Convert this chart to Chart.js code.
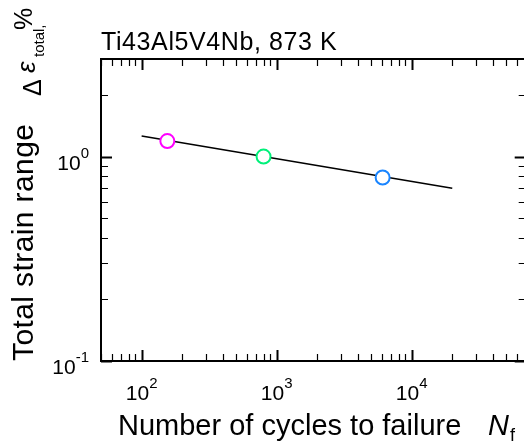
<!DOCTYPE html>
<html>
<head>
<meta charset="utf-8">
<script src="https://cdn.jsdelivr.net/npm/chart.js@4"></script>
<style>
  html, body { margin: 0; padding: 0; overflow: hidden; background: #fff; }
</style>
</head>
<body>
<canvas id="chart" width="540" height="443"></canvas>
<script>
// measured points (Ti43Al5V4Nb, 873 K)
var cycles = [155, 800, 6100];
var strain = [1.19, 1.0, 0.79];
var pointColors = ["#ff00ff", "#00f07a", "#1a85ff"];

// fitted line
var fitCycles = [100, 20000];
var fitStrain = [1.26, 0.70];

// decade labels
var xTickExps = [2, 3, 4];
var yTickExps = [-1, 0];

var FONT = "'Liberation Sans', Arial, sans-serif";

function drawPow(ctx, exp, x, base, align) {
    ctx.font = "21px " + FONT;
    var w1 = ctx.measureText("10").width;
    ctx.font = "15px " + FONT;
    var w2 = ctx.measureText(String(exp)).width;
    var left = align === "center" ? x - (w1 + w2) / 2 : x - (w1 + w2);
    ctx.textAlign = "left";
    ctx.textBaseline = "alphabetic";
    ctx.font = "21px " + FONT;
    ctx.fillText("10", left, base);
    ctx.font = "15px " + FONT;
    ctx.fillText(String(exp), left + w1, base - 12);
}

var axesPlugin = {
    id: "axesPlugin",
    afterDraw: function (chart) {
        var ctx = chart.ctx;
        var a = chart.chartArea;
        var xs = chart.scales.x, ys = chart.scales.y;
        ctx.save();
        ctx.strokeStyle = "#000";
        ctx.fillStyle = "#000";

        // ticks, pointing inward on all four sides
        var d, m, v, p, len;
        for (d = 10; d <= 100000; d *= 10) {
            for (m = 1; m < 10; m++) {
                v = m * d;
                if (v < xs.min || v > xs.max) continue;
                p = Math.round(xs.getPixelForValue(v)) + 0.5;
                len = m === 1 ? 11 : 7;
                ctx.lineWidth = m === 1 ? 2 : 1.2;
                ctx.beginPath();
                ctx.moveTo(p, a.bottom); ctx.lineTo(p, a.bottom - len);
                ctx.moveTo(p, a.top); ctx.lineTo(p, a.top + len);
                ctx.stroke();
            }
        }
        for (d = 0.01; d <= 10; d *= 10) {
            for (m = 1; m < 10; m++) {
                v = m * d;
                if (v < ys.min * 0.999 || v > ys.max * 1.001) continue;
                p = Math.round(ys.getPixelForValue(v)) + 0.5;
                len = m === 1 ? 11 : 7;
                ctx.lineWidth = m === 1 ? 2 : 1.2;
                ctx.beginPath();
                ctx.moveTo(a.left, p); ctx.lineTo(a.left + len, p);
                ctx.moveTo(a.right, p); ctx.lineTo(a.right - len, p);
                ctx.stroke();
            }
        }

        // frame
        ctx.lineWidth = 2;
        ctx.strokeRect(a.left, a.top, a.right - a.left, a.bottom - a.top);

        // tick labels
        xTickExps.forEach(function (e) {
            drawPow(ctx, e, xs.getPixelForValue(Math.pow(10, e)), 400, "center");
        });
        yTickExps.forEach(function (e) {
            drawPow(ctx, e, 89, ys.getPixelForValue(Math.pow(10, e)) + 13, "right");
        });

        // title
        ctx.textAlign = "left";
        ctx.textBaseline = "alphabetic";
        ctx.font = "25px " + FONT;
        ctx.letterSpacing = "0.6px";
        ctx.fillText("Ti43Al5V4Nb, 873 K", 101, 50);
        ctx.letterSpacing = "0px";

        // x axis title
        ctx.font = "29px " + FONT;
        ctx.fillText("Number of cycles to failure", 118, 435);
        ctx.font = "italic 29px " + FONT;
        ctx.fillText("N", 488, 435);
        var wn = ctx.measureText("N").width;
        ctx.font = "18px " + FONT;
        ctx.fillText("f", 488 + wn + 1, 441);

        // y axis title
        ctx.translate(33, 361);
        ctx.rotate(-Math.PI / 2);
        ctx.font = "30px " + FONT;
        ctx.letterSpacing = "0.4px";
        ctx.fillText("Total strain range", 0, 0);
        ctx.letterSpacing = "0px";
        ctx.font = "25px " + FONT;
        ctx.fillText("\u0394", 265, 8);
        ctx.font = "italic 26px " + FONT;
        ctx.fillText("\u03b5", 288, 2);
        ctx.font = "15px " + FONT;
        ctx.fillText("total,", 304, 11);
        ctx.font = "25px " + FONT;
        ctx.fillText("%", 331, -1);
        ctx.restore();
    }
};

var ctx = document.getElementById("chart");
var myChart = new Chart(ctx, {
    type: "scatter",
    data: {
        datasets: [
            {
                data: cycles.map(function (c, i) { return { x: c, y: strain[i] }; }),
                pointRadius: 7,
                pointBorderWidth: 2,
                pointBorderColor: pointColors,
                pointBackgroundColor: "#fff",
                order: 0,
            },
            {
                data: fitCycles.map(function (c, i) { return { x: c, y: fitStrain[i] }; }),
                showLine: true,
                borderColor: "#000",
                borderWidth: 1.6,
                pointRadius: 0,
                order: 1,
            },
        ],
    },
    options: {
        responsive: false,
        animation: false,
        layout: {
            padding: { left: 101, top: 59, right: 14.3, bottom: 82 },
        },
        plugins: {
            legend: { display: false },
            tooltip: { enabled: false },
        },
        scales: {
            x: { type: "logarithmic", min: 50, max: 70000, display: false },
            y: { type: "logarithmic", min: 0.1, max: 3, display: false },
        },
    },
    plugins: [axesPlugin],
});
</script>
</body>
</html>
